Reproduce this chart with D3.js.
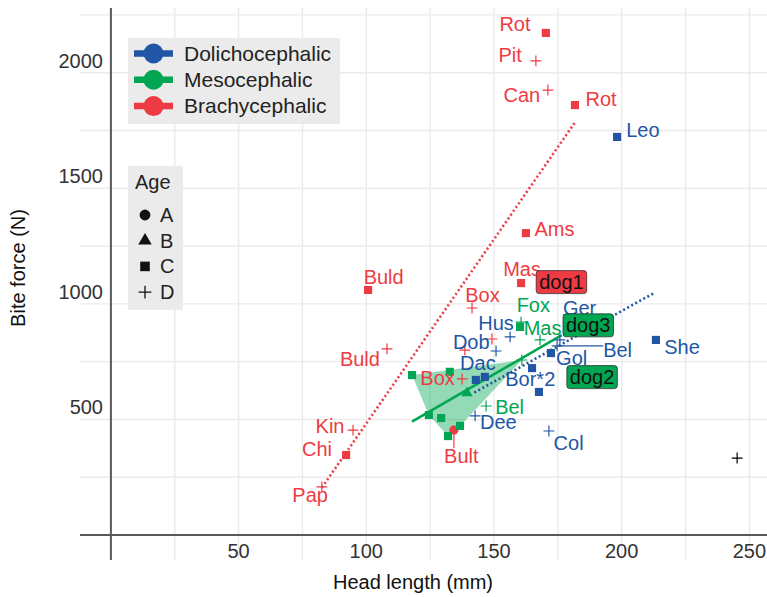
<!DOCTYPE html>
<html><head><meta charset="utf-8">
<script src="https://cdn.jsdelivr.net/npm/d3@7"></script>
<style>
body{margin:0;background:#fff;}
svg{display:block;font-family:"Liberation Sans",Arial,Helvetica,sans-serif;}
</style></head>
<body><svg id="chart" width="767" height="597"></svg>
<script>
// ---- data ----
const groups = ["Dolichocephalic", "Mesocephalic", "Brachycephalic"];
const ages = ["A", "B", "C", "D"];
const xTicks = [50, 100, 150, 200, 250];
const yTicks = [500, 1000, 1500, 2000];
// [label, age, head length, bite force, label x, label y, segment]
const brachyPoints = [
  ["Rot","C",170.3,2172,158.2,2211],
  ["Pit","D",166.4,2051,156.3,2077],
  ["Can","D",171.1,1925,160.9,1904],
  ["Rot","C",181.7,1860,191.9,1885],
  ["Ams","C",162.5,1306,173.7,1322],
  ["Mas","C",160.6,1090,161.0,1149],
  ["Buld","C",100.7,1060,106.8,1117],
  ["Box","D",141.4,982,145.5,1038],
  ["Buld","D",108.1,805,97.5,761],
  ["","D",138.6,800],
  ["","D",149.2,848],
  ["Box","D",137.5,675,127.9,680],
  ["Bult","A",134.3,454,137.2,342,true],
  ["Kin","D",94.8,454,85.8,471],
  ["Chi","C",92.1,346,80.7,371],
  ["Pap","D",82.6,208,78.0,173]
];
const dolichoPoints = [
  ["Leo","C",198.2,1722,208.3,1752],
  ["She","C",213.4,844,223.6,813],
  ["Ger","D",175.8,844,183.5,981],
  ["Bel","D",174.7,818,198.4,800,true],
  ["Hus","D",156.3,857,150.8,918],
  ["Dob","D",150.8,796,141.1,836],
  ["Gol","C",172.3,787,180.4,764],
  ["Dac","C",142.9,671,143.7,743],
  ["","C",146.4,684],
  ["Bor*2","C",164.9,722,164.2,675],
  ["","C",167.6,619],
  ["Dee","D",142.6,515,151.7,490],
  ["Col","D",171.5,450,179.2,397]
];
const mesoPoints = [
  ["Fox","C",160.2,900,165.4,995],
  ["","D",160.6,921],
  ["Mas","D",168.0,844,169.0,894],
  ["","D",160.9,757],
  ["Bel","D",146.9,558,156.1,555],
  ["","C",117.9,692],
  ["","C",132.7,706],
  ["","C",124.5,519],
  ["","C",129.3,506],
  ["","C",136.7,472],
  ["","C",132.0,428],
  ["","B",139.4,614]
];
// hull of the compact Mesocephalic cluster (indices into mesoPoints)
const mesoHullMembers = [3,5,6,7,8,9,10,11];
const otherPoints = [["","D",245.2,333]];
// fitted lines [head length, bite force]
const brachyFit = [[82.6,205],[181.7,1785]];
const dolichoFit = [[142.3,616],[212.7,1047]];
const mesoFit = [[117.9,490],[176.5,865]];
// boxed labels [text, group, head length, bite force]
const dogLabels = [
  ["dog1","Brachycephalic",176.4,1094],
  ["dog3","Mesocephalic",186.9,907],
  ["dog2","Mesocephalic",188.4,683]
];

// ---- drawing ----
const colors = {Dolichocephalic:"#2156a5", Mesocephalic:"#00a651", Brachycephalic:"#ee3b43", other:"#000"};
const svg = d3.select("#chart");
const x = d3.scaleLinear().domain([0,250]).range([110.9,749.4]);
const y = d3.scaleLinear().domain([0,2000]).range([535,72.7]);
const panel = {left:80, right:767, top:8, bottom:560};
const FONT = 20;

// grid
const gx = d3.range(25, 251, 25);
const gy = d3.range(250, 2251, 250);
svg.append("g").selectAll("line").data(gx).join("line")
  .attr("x1", d=>x(d)).attr("x2", d=>x(d)).attr("y1", panel.top).attr("y2", panel.bottom)
  .attr("stroke", "#ebebeb").attr("stroke-width", 1.4);
svg.append("g").selectAll("line").data(gy).join("line")
  .attr("y1", d=>y(d)).attr("y2", d=>y(d)).attr("x1", panel.left).attr("x2", panel.right)
  .attr("stroke", "#ebebeb").attr("stroke-width", 1.4);
// zero axes
svg.append("line").attr("x1", panel.left).attr("x2", panel.right).attr("y1", y(0)).attr("y2", y(0))
  .attr("stroke", "#595959").attr("stroke-width", 2);
svg.append("line").attr("x1", x(0)).attr("x2", x(0)).attr("y1", panel.top).attr("y2", panel.bottom)
  .attr("stroke", "#595959").attr("stroke-width", 2);

// tick labels
svg.append("g").selectAll("text").data(xTicks).join("text")
  .attr("x", d=>x(d)).attr("y", 558).attr("text-anchor", "middle")
  .attr("font-size", FONT).attr("fill", "#333").text(d=>d);
svg.append("g").selectAll("text").data(yTicks).join("text")
  .attr("x", 103).attr("y", d=>y(d)-5).attr("text-anchor", "end")
  .attr("font-size", FONT).attr("fill", "#333").text(d=>d);
// axis titles
svg.append("text").attr("x", 413).attr("y", 589).attr("text-anchor", "middle")
  .attr("font-size", FONT).attr("fill", "#111").text("Head length (mm)");
svg.append("text").attr("transform", "translate(25,268) rotate(-90)").attr("text-anchor", "middle")
  .attr("font-size", FONT).attr("fill", "#111").text("Bite force (N)");

// hull
const hullPts = d3.polygonHull(mesoHullMembers.map(i => [x(mesoPoints[i][2]), y(mesoPoints[i][3])]));
svg.append("path").attr("d", "M" + hullPts.join("L") + "Z")
  .attr("fill", colors.Mesocephalic).attr("fill-opacity", 0.42).attr("stroke", "none");

// fit lines
const line = d3.line().x(d=>x(d[0])).y(d=>y(d[1]));
svg.append("path").attr("d", line(brachyFit)).attr("stroke", colors.Brachycephalic)
  .attr("stroke-width", 2.6).attr("stroke-dasharray", "2,2.6").attr("fill", "none");
svg.append("path").attr("d", line(dolichoFit)).attr("stroke", colors.Dolichocephalic)
  .attr("stroke-width", 2.6).attr("stroke-dasharray", "2,2.6").attr("fill", "none");
svg.append("path").attr("d", line(mesoFit)).attr("stroke", colors.Mesocephalic)
  .attr("stroke-width", 2.6).attr("fill", "none");

// points
function shapePath(age, s) {
  if (age === "A") return d3.symbol(d3.symbolCircle, 20*s)();
  if (age === "B") return d3.symbol(d3.symbolTriangle, 17*s)();
  if (age === "C") { const h = Math.sqrt(s*20)/2; return `M${-h},${-h}H${h}V${h}H${-h}Z`; }
  const h = Math.sqrt(s*20)/1.5;
  return `M${-h},0H${h}M0,${-h}V${h}`;
}
const allSets = [
  [brachyPoints, "Brachycephalic"],
  [dolichoPoints, "Dolichocephalic"],
  [mesoPoints, "Mesocephalic"],
  [otherPoints, "other"]
];
const pointLayer = svg.append("g");
const labelLayer = svg.append("g");
allSets.forEach(([pts, g]) => {
  const c = colors[g];
  pointLayer.selectAll(null).data(pts).join("path")
    .attr("transform", d=>`translate(${x(d[2])},${y(d[3])})`)
    .attr("d", d=>shapePath(d[1], 3.3))
    .attr("fill", d=>d[1]==="D" ? "none" : c)
    .attr("stroke", d=>d[1]==="D" ? c : "none")
    .attr("stroke-width", 1.2);
  pts.filter(d=>d[0]).forEach(d => {
    const t = labelLayer.append("text").attr("x", x(d[4])).attr("y", y(d[5]))
      .attr("text-anchor", "middle").attr("dy", "0.35em")
      .attr("font-size", FONT).attr("fill", c).text(d[0]);
    if (d[6]) {
      const b = t.node().getBBox();
      const px = x(d[2]), py = y(d[3]);
      const cx = Math.max(b.x, Math.min(px, b.x + b.width));
      const cy = Math.max(b.y + 3, Math.min(py, b.y + b.height - 3));
      labelLayer.append("line").attr("x1", px).attr("y1", py).attr("x2", cx).attr("y2", cy)
        .attr("stroke", c).attr("stroke-width", 1.2);
    }
  });
});

// boxed labels
dogLabels.forEach(d => {
  const g = svg.append("g");
  const t = g.append("text").attr("x", x(d[2])).attr("y", y(d[3])).attr("dy", "0.35em")
    .attr("text-anchor", "middle").attr("font-size", FONT).attr("fill", "#111").text(d[0]);
  const b = t.node().getBBox();
  g.insert("rect", "text").attr("x", b.x - 3).attr("y", y(d[3]) - 11.5)
    .attr("width", b.width + 6).attr("height", 23).attr("rx", 3)
    .attr("fill", colors[d[1]]).attr("stroke", "#222").attr("stroke-width", 0.7);
});

// legend 1: groups
const leg1 = svg.append("g");
leg1.append("rect").attr("x", 128).attr("y", 38).attr("width", 212).attr("height", 86).attr("fill", "#ebebeb");
groups.forEach((gname, i) => {
  const cy = 53.5 + i * 26.3;
  leg1.append("line").attr("x1", 134).attr("x2", 173).attr("y1", cy).attr("y2", cy)
    .attr("stroke", colors[gname]).attr("stroke-width", 6.5);
  leg1.append("circle").attr("cx", 153.5).attr("cy", cy).attr("r", 10).attr("fill", colors[gname]);
  leg1.append("text").attr("x", 184).attr("y", cy).attr("dy", "0.35em")
    .attr("font-size", 21).attr("fill", "#222").text(gname);
});
// legend 2: age
const leg2 = svg.append("g");
leg2.append("rect").attr("x", 128).attr("y", 166).attr("width", 55).attr("height", 144).attr("fill", "#ebebeb");
leg2.append("text").attr("x", 135).attr("y", 182).attr("dy", "0.35em").attr("font-size", FONT)
  .attr("fill", "#222").text("Age");
ages.forEach((a, i) => {
  const cy = 215 + i * 25.7;
  leg2.append("path").attr("transform", `translate(145,${cy})`).attr("d", shapePath(a, 4.6))
    .attr("fill", a==="D" ? "none" : "#111").attr("stroke", a==="D" ? "#111" : "none").attr("stroke-width", 1.3);
  leg2.append("text").attr("x", 160).attr("y", cy).attr("dy", "0.35em").attr("font-size", FONT)
    .attr("fill", "#222").text(a);
});
</script></body></html>
